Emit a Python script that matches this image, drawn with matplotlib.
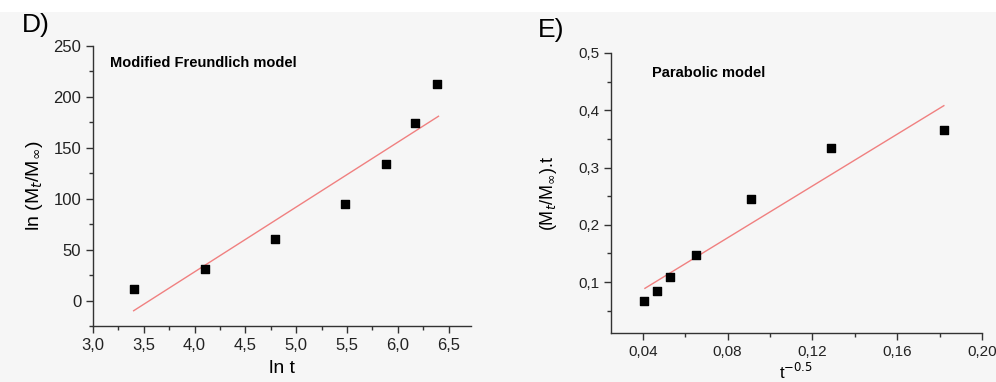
import numpy as np
import matplotlib
matplotlib.use("Agg")
import matplotlib.pyplot as plt
from matplotlib.ticker import MultipleLocator, FuncFormatter

plt.rcParams['font.family'] = ['Liberation Sans', 'DejaVu Sans']

# ---- panel D: modified Freundlich ----
d_x = [3.40, 4.10, 4.79, 5.48, 5.88, 6.17, 6.39]
d_y = [11, 31, 60, 95, 134, 174, 213]
d_fit_x = [3.40, 6.40]
d_fit_y = [-10, 181]

# ---- panel E: parabolic ----
e_x = [0.0408, 0.0466, 0.0530, 0.0650, 0.0910, 0.1290, 0.1820]
e_y = [0.067, 0.084, 0.108, 0.147, 0.245, 0.334, 0.366]
e_fit_x = [0.041, 0.182]
e_fit_y = [0.089, 0.408]

bg = '#f6f6f6'
W, H = 996, 382
fig = plt.figure(figsize=(W / 100, H / 100), dpi=100, facecolor=bg)
# white strip at the top like the source image
fig.patches.append(plt.Rectangle((0, 1 - 12 / H), 1, 12 / H, transform=fig.transFigure,
                                 facecolor='white', edgecolor='none', zorder=0))


def comma(fmt):
    return FuncFormatter(lambda v, p: (fmt % v).replace('.', ','))


def style(ax, fs):
    ax.set_facecolor('none')
    for s in ['top', 'right']:
        ax.spines[s].set_visible(False)
    for s in ['left', 'bottom']:
        ax.spines[s].set_linewidth(1.0)
        ax.spines[s].set_color('#333333')
    ax.tick_params(which='major', direction='out', length=5, width=1, labelsize=fs,
                   colors='#333333', labelcolor='#222222')
    ax.tick_params(which='minor', direction='out', length=3, width=1, colors='#333333')


# left panel
ax1 = fig.add_axes([93 / W, 1 - 326 / H, (471 - 93) / W, (326 - 46) / H])
style(ax1, 12)
ax1.plot(d_fit_x, d_fit_y, color='#f08080', lw=1.0)
ax1.scatter(d_x, d_y, marker='s', s=40, color='black', zorder=3)
ax1.set_xlim(3.0, 6.72)
ax1.set_ylim(-25, 250)
ax1.xaxis.set_major_locator(MultipleLocator(0.5))
ax1.xaxis.set_minor_locator(MultipleLocator(0.25))
ax1.yaxis.set_major_locator(MultipleLocator(50))
ax1.yaxis.set_minor_locator(MultipleLocator(25))
ax1.xaxis.set_major_formatter(comma('%.1f'))
ax1.set_xlabel('ln t', fontsize=14, labelpad=5)
ax1.set_ylabel(r'ln (M$_t$/M$_\infty$)', fontsize=14, labelpad=6)
ax1.text(0.045, 0.94, 'Modified Freundlich model', transform=ax1.transAxes,
         fontsize=10.5, fontweight='bold', va='center')
fig.text(22 / W, 1 - 25 / H, 'D)', fontsize=19, va='center', ha='left')

# right panel
ax2 = fig.add_axes([611 / W, 1 - 333 / H, (982 - 611) / W, (333 - 53) / H])
style(ax2, 11)
ax2.plot(e_fit_x, e_fit_y, color='#f08080', lw=1.0)
ax2.scatter(e_x, e_y, marker='s', s=40, color='black', zorder=3)
ax2.set_xlim(0.025, 0.20)
ax2.set_ylim(0.011, 0.5)
ax2.xaxis.set_major_locator(MultipleLocator(0.04))
ax2.xaxis.set_minor_locator(MultipleLocator(0.02))
ax2.yaxis.set_major_locator(MultipleLocator(0.1))
ax2.yaxis.set_minor_locator(MultipleLocator(0.05))
ax2.xaxis.set_major_formatter(comma('%.2f'))
ax2.yaxis.set_major_formatter(comma('%.1f'))
ax2.set_xlabel(r't$^{-0.5}$', fontsize=12, labelpad=2)
ax2.set_ylabel(r'(M$_t$/M$_\infty$).t', fontsize=13, labelpad=14)
ax2.text(0.11, 0.93, 'Parabolic model', transform=ax2.transAxes,
         fontsize=10.5, fontweight='bold', va='center')
fig.text(538 / W, 1 - 30 / H, 'E)', fontsize=19, va='center', ha='left')

fig.savefig('out.png', dpi=100, facecolor=bg)
